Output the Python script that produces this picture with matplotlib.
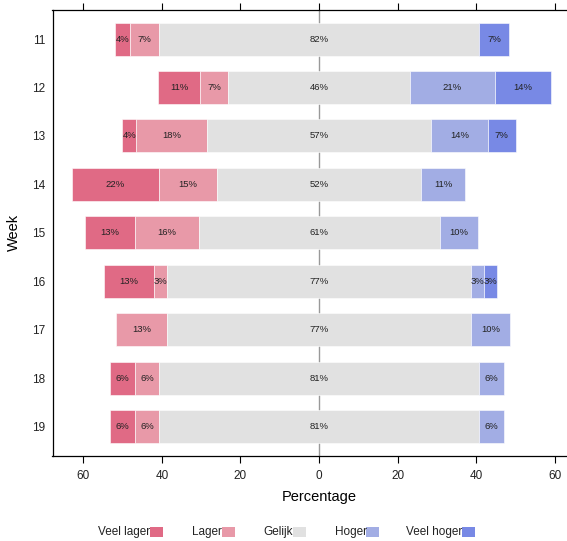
import matplotlib
matplotlib.use("Agg")
import matplotlib.pyplot as plt
from matplotlib.patches import Rectangle
import numpy as np

plt.rcParams['font.family'] = ['Liberation Sans', 'DejaVu Sans']

weeks = ["11", "12", "13", "14", "15", "16", "17", "18", "19"]
categories = ["Veel lager", "Lager", "Gelijk", "Hoger", "Veel hoger"]
veel_lager = [3.7, 10.7, 3.6, 22.2, 12.9, 12.9, 0.0, 6.25, 6.25]
lager      = [7.4, 7.1, 17.9, 14.8, 16.1, 3.2, 12.9, 6.25, 6.25]
gelijk     = [81.5, 46.4, 57.1, 51.9, 61.3, 77.4, 77.4, 81.25, 81.25]
hoger      = [0.0, 21.4, 14.3, 11.1, 9.7, 3.2, 9.7, 6.25, 6.25]
veel_hoger = [7.4, 14.3, 7.1, 0.0, 0.0, 3.2, 0.0, 0.0, 0.0]
colors = ["#E06A85", "#E899A8", "#E1E1E1", "#A2ADE4", "#7889E5"]
xticks = [-60, -40, -20, 0, 20, 40, 60]

fig = plt.figure(figsize=(5.67, 5.41), dpi=100)
W, H = 567, 541
ax_left, ax_right = 52.5, 585.8
ax_top, ax_bot = 10, 455.7
ax = fig.add_axes([ax_left / W, 1 - ax_bot / H, (ax_right - ax_left) / W, (ax_bot - ax_top) / H])

n = len(weeks)
ypos = np.arange(n)[::-1] + 1  # week 11 at top
ax.axvline(0, color="#999999", lw=1.0, zorder=0)

series = [veel_lager, lager, gelijk, hoger, veel_hoger]
for i in range(n):
    g = gelijk[i]
    starts = {}
    starts[2] = -g / 2
    starts[1] = -g / 2 - lager[i]
    starts[0] = starts[1] - veel_lager[i]
    starts[3] = g / 2
    starts[4] = g / 2 + hoger[i]
    for k in range(5):
        v = series[k][i]
        if v <= 0:
            continue
        ax.barh(ypos[i], v, left=starts[k], height=0.68, color=colors[k],
                edgecolor="white", linewidth=0.4, zorder=2)
        ax.text(starts[k] + v / 2, ypos[i], f"{int(round(v))}%", ha="center", va="center",
                fontsize=6.8, color="#222222", zorder=3)

ax.set_xlim(-67.8, 67.8)
ax.set_ylim(0.4, n + 0.6)
ax.set_yticks(ypos)
ax.set_yticklabels(weeks, fontsize=8.5, color="#222222")
ax.set_xticks(xticks)
ax.set_xticklabels([str(abs(t)) for t in xticks], fontsize=8.5, color="#222222")
ax.tick_params(axis="y", length=0, pad=5)
ax.tick_params(axis="x", direction="out", length=5, width=0.8, top=True, labeltop=False, pad=5)
for s in ax.spines.values():
    s.set_linewidth(0.9)
ax.set_xlabel("Percentage", fontsize=10.5, labelpad=6)
ax.set_ylabel("Week", fontsize=10.5, labelpad=8)

# legend at bottom
patch_lefts = [150, 221.7, 292.7, 366.3, 462]
for k, cat in enumerate(categories):
    x0 = patch_lefts[k]
    fig.add_artist(Rectangle((x0 / W, 1 - 536.7 / H), 13 / W, 9.3 / H, transform=fig.transFigure,
                             facecolor=colors[k], edgecolor="none"))
    fig.text((x0 + 0.5) / W, 1 - 532 / H, cat, ha="right", va="center", fontsize=8.5, color="#222222")

fig.savefig("out.png", dpi=100)
